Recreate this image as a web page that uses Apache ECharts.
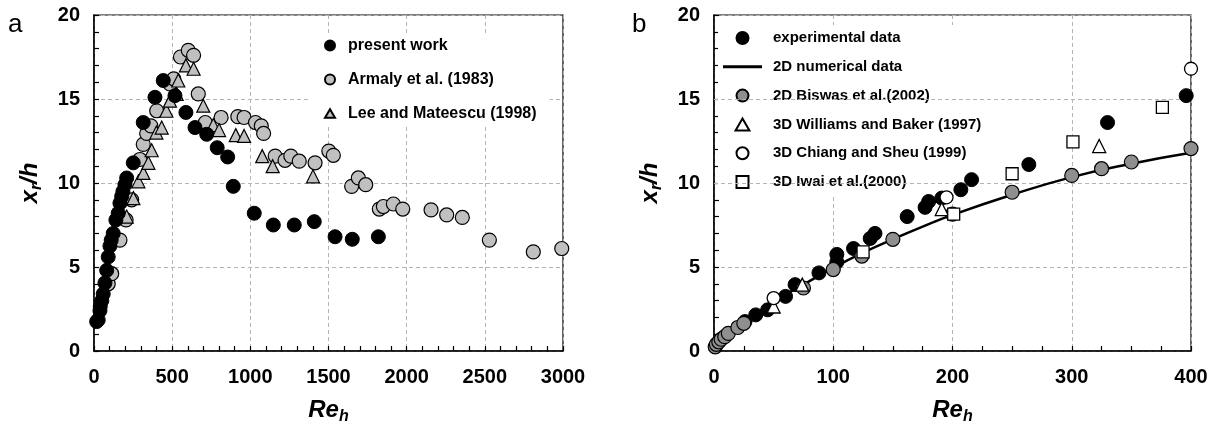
<!DOCTYPE html>
<html><head><meta charset="utf-8">
<script src="https://cdn.jsdelivr.net/npm/echarts@6/dist/echarts.min.js"></script>
<style>html,body{margin:0;padding:0;background:#fff}#c{width:1220px;height:437px}</style>
</head><body><div id="c"></div>
<script>
// ---------- Panel a data: [Re_h, x_r/h] ----------
const presentWork = [[17,1.75],[27,1.85],[38,2.4],[40,2.65],[50,3.0],[59,3.4],[70,4.05],[81,4.8],[91,5.6],[102,6.25],[110,6.6],[123,7.0],[140,7.8],[155,8.2],[166,8.8],[177,9.2],[185,9.5],[198,9.9],[209,10.3],[251,11.2],[315,13.6],[390,15.1],[443,16.1],[518,15.2],[588,14.2],[646,13.3],[721,12.9],[788,12.1],[855,11.55],[891,9.8],[1025,8.2],[1147,7.5],[1281,7.5],[1409,7.7],[1542,6.8],[1652,6.65],[1819,6.8]];
const armaly = [[91,4.0],[113,4.6],[166,6.6],[205,7.8],[241,9.0],[294,11.4],[315,12.3],[337,12.95],[364,13.4],[401,14.3],[486,15.9],[510,16.2],[553,17.5],[603,17.9],[637,17.6],[667,15.3],[712,13.6],[813,13.9],[920,13.95],[960,13.9],[1033,13.6],[1070,13.4],[1085,12.95],[1159,11.6],[1222,11.35],[1259,11.6],[1313,11.3],[1414,11.2],[1502,11.9],[1531,11.65],[1648,9.8],[1691,10.3],[1738,9.9],[1825,8.45],[1851,8.6],[1915,8.75],[1975,8.45],[2156,8.4],[2256,8.1],[2356,7.95],[2529,6.6],[2810,5.9],[2992,6.1]];
const leeMateescu = [[209,8.0],[252,9.1],[284,10.1],[316,10.6],[348,11.2],[369,11.95],[399,13.0],[433,13.3],[463,14.3],[486,14.9],[529,15.3],[539,16.1],[588,17.0],[637,16.8],[699,14.6],[763,13.45],[800,13.15],[907,12.85],[960,12.8],[1076,11.6],[1143,11.0],[1401,10.4]];

// ---------- Panel b data ----------
const experimental = [[26,1.75],[35,2.15],[45,2.45],[60,3.25],[68,3.95],[88,4.65],[103,5.3],[103,5.75],[117,6.1],[131,6.7],[135,7.0],[162,8.0],[177,8.55],[180,8.9],[191,9.1],[207,9.6],[216,10.2],[264,11.1],[330,13.6],[396,15.2]];
const numerical2D = [[0,0],[10,0.75],[20,1.35],[30,1.9],[50,2.95],[75,3.95],[100,4.95],[125,5.85],[150,6.65],[175,7.4],[200,8.1],[250,9.3],[300,10.35],[350,11.15],[400,11.8]];
const biswas = [[1,0.25],[2,0.4],[4,0.55],[6,0.7],[9,0.85],[12,1.05],[20,1.4],[25,1.65],[75,3.75],[100,4.85],[124,5.65],[150,6.65],[200,8.15],[250,9.45],[300,10.45],[325,10.85],[350,11.25],[400,12.05]];
const williamsBaker = [[50,2.65],[74,3.95],[191,8.45],[323,12.2]];
const chiangSheu = [[50,3.15],[195,9.15],[400,16.8]];
const iwai = [[125,5.9],[201,8.15],[250,10.55],[301,12.45],[376,14.5]];

const xTicksA = {min:0, max:3000, interval:500};
const xTicksB = {min:0, max:400, interval:100};
const yTicks = {min:0, max:20, interval:5};

const FONT = '"Liberation Sans", Arial, Helvetica, sans-serif';
const nameRich = {
  i:{fontSize:24,fontWeight:'bold',fontStyle:'italic',fontFamily:FONT,color:'#000',lineHeight:30},
  s:{fontSize:16,fontWeight:'bold',fontStyle:'italic',fontFamily:FONT,color:'#000',lineHeight:14,verticalAlign:'bottom'}
};
const splitStyle = {show:true, lineStyle:{color:'#b5b5b5', type:[4,3], width:1}};
const plainNum = v => String(v);

function xAxisCfg(gi, t, minorSplit){
  return {type:'value', gridIndex:gi, min:t.min, max:t.max, interval:t.interval,
    name:'{i|Re}{s|h}', nameLocation:'middle', nameGap:44, nameTextStyle:{rich:nameRich},
    axisLine:{show:true,onZero:false,lineStyle:{color:'#000',width:1.5}},
    axisTick:{show:true,inside:true,length:5,lineStyle:{color:'#000',width:1.2}},
    minorTick:{show:true,splitNumber:minorSplit,length:5,lineStyle:{color:'#000',width:1.2}},
    splitLine:splitStyle,
    axisLabel:{color:'#000',fontSize:20,fontWeight:'bold',fontFamily:FONT,margin:16,formatter:plainNum}};
}
function yAxisCfg(gi){
  return {type:'value', gridIndex:gi, min:yTicks.min, max:yTicks.max, interval:yTicks.interval,
    name:'{i|x}{s|r}{i|/h}', nameLocation:'middle', nameGap:49, nameRotate:90, nameTextStyle:{rich:nameRich},
    axisLine:{show:true,onZero:false,lineStyle:{color:'#000',width:1.5}},
    axisTick:{show:true,inside:true,length:5,lineStyle:{color:'#000',width:1.2}},
    minorTick:{show:true,splitNumber:5,length:5,lineStyle:{color:'#000',width:1.2}},
    splitLine:splitStyle,
    axisLabel:{color:'#000',fontSize:20,fontWeight:'bold',fontFamily:FONT,margin:14,formatter:plainNum}};
}

const black = {color:'#000', borderColor:'#000', borderWidth:1, opacity:1};
const lightGrey = {color:'#c0c0c0', borderColor:'#000', borderWidth:1.2, opacity:1};
const midGrey = {color:'#8f8f8f', borderColor:'#000', borderWidth:1.2, opacity:1};
const openSym = {color:'#fff', borderColor:'#000', borderWidth:1.3, opacity:1};

const TRI = 'path://M5,0 L10,8.66 L0,8.66 Z';
const SQR = 'path://M0,0 L10,0 L10,10 L0,10 Z';

const option = {
  animation:false,
  backgroundColor:'#fff',
  grid:[
    {left:94, top:15, width:469, height:336, show:true, borderColor:'#000', borderWidth:1.2},
    {left:714, top:15, width:477, height:336, show:true, borderColor:'#000', borderWidth:1.2}
  ],
  xAxis:[xAxisCfg(0,xTicksA,5), xAxisCfg(1,xTicksB,4)],
  yAxis:[yAxisCfg(0), yAxisCfg(1)],
  legend:[
    {data:[{name:'present work',icon:'circle'},{name:'Armaly et al. (1983)',icon:'circle'},{name:'Lee and Mateescu (1998)',icon:TRI}],
     orient:'vertical', left:310, top:35, padding:[2,13,2,14], backgroundColor:'#fff',
     itemWidth:10, itemHeight:10, itemGap:17, selectedMode:false, symbolKeepAspect:true,
     textStyle:{fontSize:16,fontWeight:'bold',fontFamily:FONT,color:'#000',lineHeight:17,padding:[0,0,0,8]}},
    {data:[{name:'experimental data',icon:'circle'},
           {name:'2D numerical data',icon:'path://M0,0 L39,0 L39,3 L0,3 Z'},
           {name:'2D Biswas et al.(2002)',icon:'circle'},
           {name:'3D Williams and Baker (1997)',icon:TRI},
           {name:'3D Chiang and Sheu (1999)',icon:'circle'},
           {name:'3D Iwai et al.(2000)',icon:SQR}],
     orient:'vertical', left:718, top:25, padding:5, backgroundColor:'#fff',
     itemWidth:39, itemHeight:12, itemGap:12.8, selectedMode:false, symbolKeepAspect:true,
     textStyle:{fontSize:15,fontWeight:'bold',fontFamily:FONT,color:'#000',lineHeight:16,padding:[0,0,0,6]}}
  ],
  graphic:[
    {type:'text', left:8, top:12, style:{text:'a', fontSize:26, fontFamily:FONT, fill:'#000'}},
    {type:'text', left:632, top:12, style:{text:'b', fontSize:26, fontFamily:FONT, fill:'#000'}}
  ],
  series:[
    {name:'Armaly et al. (1983)', type:'scatter', xAxisIndex:0, yAxisIndex:0, data:armaly, symbol:'circle', symbolSize:14, itemStyle:lightGrey},
    {name:'Lee and Mateescu (1998)', type:'scatter', xAxisIndex:0, yAxisIndex:0, data:leeMateescu, symbol:'triangle', symbolSize:13, itemStyle:lightGrey},
    {name:'present work', type:'scatter', xAxisIndex:0, yAxisIndex:0, data:presentWork, symbol:'circle', symbolSize:14, itemStyle:black},

    {type:'line', xAxisIndex:1, yAxisIndex:1, data:[], z:5, silent:true,
     markLine:{symbol:'none', silent:true, label:{show:false}, lineStyle:{color:'#b5b5b5', type:[4,3], width:1},
       data:[[{coord:[0,15]},{coord:[400,15]}],[{coord:[0,10]},{coord:[400,10]}]]}},
    {name:'experimental data', type:'scatter', xAxisIndex:1, yAxisIndex:1, z:5, data:experimental, symbol:'circle', symbolSize:14, itemStyle:black},
    {name:'2D numerical data', type:'line', xAxisIndex:1, yAxisIndex:1, z:5, data:numerical2D, smooth:true, symbol:'none', lineStyle:{color:'#000', width:2.5}, itemStyle:{color:'#000'}},
    {name:'2D Biswas et al.(2002)', type:'scatter', xAxisIndex:1, yAxisIndex:1, z:5, data:biswas, symbol:'circle', symbolSize:14, itemStyle:midGrey},
    {name:'3D Williams and Baker (1997)', type:'scatter', xAxisIndex:1, yAxisIndex:1, z:5, data:williamsBaker, symbol:'triangle', symbolSize:13, itemStyle:openSym},
    {name:'3D Chiang and Sheu (1999)', type:'scatter', xAxisIndex:1, yAxisIndex:1, z:5, data:chiangSheu, symbol:'circle', symbolSize:13, itemStyle:openSym},
    {name:'3D Iwai et al.(2000)', type:'scatter', xAxisIndex:1, yAxisIndex:1, z:5, data:iwai, symbol:'rect', symbolSize:12, itemStyle:openSym}
  ]
};
const chart = echarts.init(document.getElementById('c'));
chart.setOption(option);
</script>
</body></html>
